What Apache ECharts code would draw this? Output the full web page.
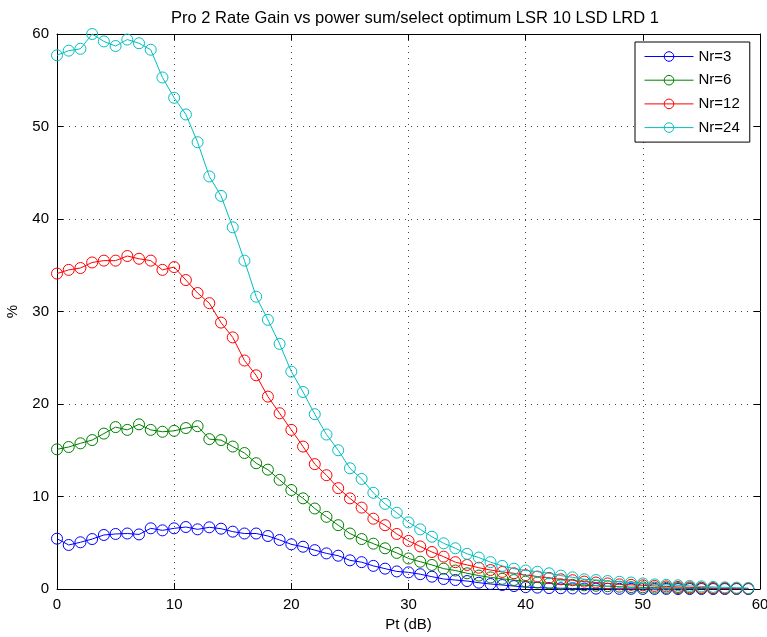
<!DOCTYPE html>
<html>
<head>
<meta charset="utf-8">
<script src="https://cdn.jsdelivr.net/npm/echarts@6/dist/echarts.min.js"></script>
<style>
html,body{margin:0;padding:0;background:#fff;}
#chart{width:767px;height:637px;}
</style>
</head>
<body>
<div id="chart"></div>
<script>
const titleText = 'Pro 2 Rate Gain vs power sum/select optimum LSR 10 LSD LRD 1';
const xName = 'Pt (dB)';
const yName = '%';
const ptValues = Array.from({length: 60}, (_, i) => i); // 0..59 dB
const seriesNames = ['Nr=3', 'Nr=6', 'Nr=12', 'Nr=24'];
const seriesColors = ['#0000ff', '#008000', '#ff0000', '#00bfbf'];

const nr3 = [5.44,4.76,5.05,5.4,5.84,5.95,6.0,5.9,6.56,6.34,6.56,6.7,6.45,6.67,6.52,6.2,6.0,6.0,5.73,5.3,
  4.83,4.57,4.2,3.85,3.6,3.1,2.9,2.5,2.2,1.9,1.8,1.6,1.33,1.08,0.97,0.86,0.68,0.54,0.43,0.32,
  0.2,0.15,0.1,0.08,0.06,0.05,0.04,0.03,0.02,0.02,0.01,0.01,0.01,0.0,0.0,0.0,0.0,0.0,0.0,0.0];
const nr6 = [15.1,15.35,15.75,16.1,16.8,17.5,17.2,17.8,17.2,17.0,17.1,17.4,17.6,16.2,16.1,15.4,14.7,13.6,12.9,11.8,
  10.7,9.8,8.7,7.8,6.9,6.0,5.4,4.9,4.4,3.9,3.3,2.95,2.6,2.2,2.0,1.7,1.45,1.25,1.1,0.97,
  0.8,0.7,0.6,0.5,0.45,0.4,0.35,0.3,0.25,0.2,0.18,0.15,0.12,0.1,0.08,0.07,0.06,0.05,0.04,0.03];
const nr12 = [34.1,34.5,34.7,35.3,35.5,35.5,36.0,35.7,35.5,34.5,34.8,33.4,32.0,30.9,28.8,27.2,24.7,23.1,20.8,19.0,
  17.2,15.4,13.5,12.3,10.9,9.8,8.8,7.6,6.9,5.95,5.2,4.6,4.0,3.5,2.9,2.6,2.3,2.05,1.84,1.7,
  1.5,1.35,1.2,1.05,0.95,0.8,0.7,0.6,0.5,0.45,0.4,0.33,0.28,0.22,0.18,0.14,0.1,0.08,0.06,0.05];
const nr24 = [57.7,58.2,58.4,60.0,59.2,58.7,59.4,59.0,58.3,55.3,53.1,51.3,48.3,44.6,42.5,39.1,35.5,31.6,29.1,26.5,
  23.5,21.3,18.9,16.7,15.0,13.05,11.9,10.4,9.2,8.25,7.2,6.45,5.65,4.94,4.4,3.8,3.4,2.9,2.5,2.2,
  2.0,1.87,1.7,1.45,1.26,1.05,0.97,0.86,0.78,0.7,0.6,0.5,0.45,0.4,0.33,0.28,0.22,0.18,0.14,0.1];
const allValues = [nr3, nr6, nr12, nr24];

const FONT = '"Liberation Sans", Arial, Helvetica, sans-serif';
const chart = echarts.init(document.getElementById('chart'), null, {renderer: 'canvas'});

const axisCommon = {
  min: 0, max: 60, interval: 10,
  axisLine: {show: true, onZero: false, lineStyle: {color: '#000', width: 1}},
  axisTick: {show: true, inside: true, length: 6, lineStyle: {color: '#000'}},
};

const option = {
  animation: false,
  backgroundColor: '#fff',
  title: {
    text: titleText, left: 410, top: 5, textAlign: 'center',
    textStyle: {fontFamily: FONT, fontSize: 16.5, fontWeight: 'normal', color: '#000'}
  },
  grid: {left: 57, right: 7, top: 34, bottom: 48, containLabel: false, outerBoundsMode: 'none'},
  legend: {
    orient: 'vertical', left: 635, top: 42,
    data: seriesNames,
    itemWidth: 49, itemHeight: 12, itemGap: 8.7,
    padding: [7, 10, 7, 9],
    backgroundColor: '#fff', borderColor: '#000', borderWidth: 1,
    textStyle: {fontFamily: FONT, fontSize: 15, color: '#000'},
    lineStyle: {width: 1},
    itemStyle: {borderWidth: 1},
    selectedMode: false
  },
  xAxis: [
    Object.assign({}, axisCommon, {
      type: 'value', position: 'bottom',
      name: xName, nameLocation: 'middle', nameGap: 23,
      nameTextStyle: {fontFamily: FONT, fontSize: 15, color: '#000'},
      axisLabel: {fontFamily: FONT, fontSize: 15, color: '#000', margin: 8},
      splitLine: {show: true, lineStyle: {color: '#444', type: [1, 5], width: 1}}
    }),
    Object.assign({}, axisCommon, {
      type: 'value', position: 'top',
      axisLabel: {show: false}, splitLine: {show: false}
    })
  ],
  yAxis: [
    Object.assign({}, axisCommon, {
      type: 'value', position: 'left',
      name: yName, nameLocation: 'middle', nameGap: 37, nameRotate: 90,
      nameTextStyle: {fontFamily: FONT, fontSize: 15, color: '#000'},
      axisLabel: {fontFamily: FONT, fontSize: 15, color: '#000', margin: 8},
      splitLine: {show: true, lineStyle: {color: '#444', type: [1, 5], width: 1}}
    }),
    Object.assign({}, axisCommon, {
      type: 'value', position: 'right',
      axisLabel: {show: false}, splitLine: {show: false}
    })
  ],
  series: seriesNames.map((name, i) => ({
    name: name,
    type: 'line',
    xAxisIndex: 0, yAxisIndex: 0,
    data: ptValues.map((x, j) => [x, allValues[i][j]]),
    symbol: 'circle',
    symbolSize: 11,
    showSymbol: true,
    clip: false,
    lineStyle: {color: seriesColors[i], width: 1},
    itemStyle: {color: 'rgba(255,255,255,0)', borderColor: seriesColors[i], borderWidth: 1},
    emphasis: {disabled: true},
    z: 2 + i
  }))
};
chart.setOption(option);
</script>
</body>
</html>
